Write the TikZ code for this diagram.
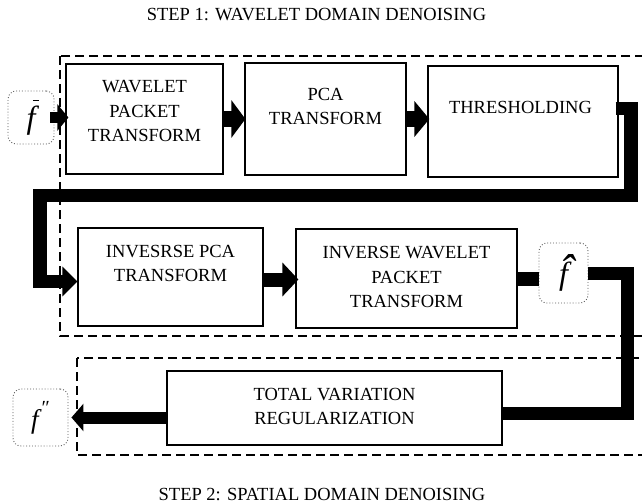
\documentclass[tikz,border=0pt]{standalone}
\usepackage{fontspec}
\setmainfont{Liberation Serif}
\usetikzlibrary{arrows.meta}
\begin{document}
\begin{tikzpicture}[x=1pt,y=-1pt,
  proc/.style={draw, line width=1.2pt, inner sep=0pt},
  lbl/.style={align=center, inner sep=0pt, font=\fontsize{18.5}{24.7}\selectfont},
  sig/.style={draw=black!65, dotted, line width=0.9pt, rounded corners=8pt, inner sep=0pt},
  stageframe/.style={draw, line width=1.3pt, dash pattern=on 9pt off 5pt},
  pipe/.style={draw, line width=14pt, line join=miter, line cap=butt}]
\useasboundingbox (0,0) rectangle (642,503);

% stage frames
\draw[stageframe] (60,56) rectangle (660,336);
\draw[stageframe] (77,358) rectangle (660,455);

% titles
\node[lbl] (t1) at (316.5,14.5) {STEP 1: WAVELET DOMAIN DENOISING};
\node[lbl] (t2) at (322,494) {STEP 2: SPATIAL DOMAIN DENOISING};

% signals
\node[sig, minimum width=46pt, minimum height=53pt] (fbar) at (31,117.5)
  {\fontsize{32}{34}\selectfont\itshape\rlap{\kern0.2em\raisebox{0.84em}{\rule{0.2em}{0.035em}}}f};
\node[sig, minimum width=49pt, minimum height=60pt] (fhat) at (563.5,273)
  {\fontsize{32}{34}\selectfont\itshape\rlap{\kern0pt\raisebox{-2pt}{\fontsize{46}{46}\selectfont\symbol{"02C6}}}f};
\node[sig, minimum width=55pt, minimum height=57pt] (fpp) at (40.5,417.5)
  {\fontsize{27}{29}\selectfont\itshape f\kern3pt\raisebox{14pt}{\upshape\fontsize{20}{20}\selectfont\symbol{"2033}}};

% process boxes
\node[proc, minimum width=157pt, minimum height=110pt] (wpt) at (144.5,119) {};
\node[proc, minimum width=161pt, minimum height=112pt] (pca) at (325.5,119) {};
\node[proc, minimum width=190pt, minimum height=111pt] (th) at (523,121.5) {};
\node[proc, minimum width=185pt, minimum height=98pt] (ipca) at (170.5,277) {};
\node[proc, minimum width=221pt, minimum height=99pt] (iwpt) at (406.5,278.5) {};
\node[proc, minimum width=335pt, minimum height=74pt] (tv) at (334.5,408) {};

% box labels
\node[lbl] (wptT) at (144.5,111) {WAVELET\\PACKET\\TRANSFORM};
\node[lbl] (pcaT) at (325.5,106.5) {PCA\\TRANSFORM};
\node[lbl] (thT) at (520.5,107.5) {THRESHOLDING};
\node[lbl] (ipcaT) at (170.5,263.5) {INVESRSE PCA\\TRANSFORM};
\node[lbl] (iwptT) at (406.5,277) {INVERSE WAVELET\\PACKET\\TRANSFORM};
\node[lbl] (tvT) at (334.5,406.5) {TOTAL VARIATION\\REGULARIZATION};

% turning points
\coordinate (r1) at (631,195.5);
\coordinate (l1) at (40,281.5);
\coordinate (r2) at (627,413.5);

% connectors
\draw[pipe, line width=11pt, shorten >=-3pt, -{Triangle[width=26pt,length=11pt]}]
  ([xshift=-4pt]fbar.east) -- (fbar.east -| wpt.west);
\draw[pipe, line width=16pt, shorten >=-1pt, -{Triangle[width=37pt,length=14pt]}]
  (wpt.east) -- (wpt.east -| pca.west);
\draw[pipe, line width=16pt, shorten >=-2pt, -{Triangle[width=35pt,length=15pt]}]
  (pca.east) -- (pca.east -| th.west);
\draw[pipe, line width=13.5pt, -{Triangle[width=29pt,length=15pt]}]
  ([xshift=-3pt,yshift=13pt]th.east) -| (r1) -| (l1) -- (l1 -| ipca.west);
\draw[pipe, line width=14pt, shorten >=-3pt, -{Triangle[width=33pt,length=16pt]}]
  ([yshift=-2.5pt]ipca.east) -- ([yshift=-2.5pt]ipca.east -| iwpt.west);
\draw[pipe, line width=14pt]
  (iwpt.east) -- (iwpt.east -| fhat.west);
\draw[pipe, line width=13pt]
  (fhat.east) -| (r2) -- (r2 -| tv.east);
\draw[pipe, line width=12pt, shorten >=3pt, -{Triangle[width=27pt,length=12pt]}]
  (tv.west |- fpp.east) -- (fpp.east);
\end{tikzpicture}
\end{document}
